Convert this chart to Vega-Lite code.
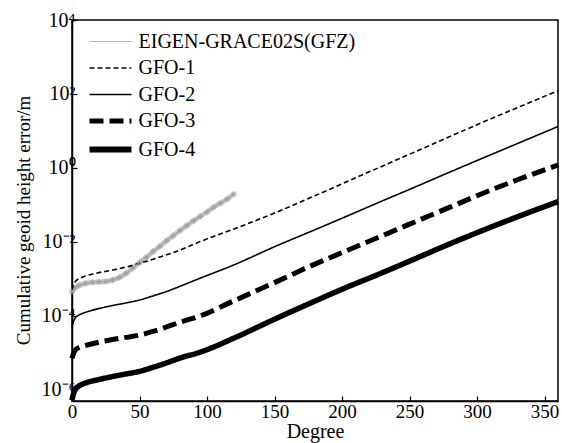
{
  "$schema": "https://vega.github.io/schema/vega-lite/v6.json",
  "width": 486,
  "height": 381,
  "autosize": {"type": "none"},
  "padding": {"left": 72, "top": 20, "right": 4, "bottom": 42},
  "background": "white",
  "config": {
    "font": "Liberation Serif",
    "view": {"stroke": "black", "strokeWidth": 1.5},
    "axis": {"grid": false, "domainColor": "black", "domainWidth": 1.5, "tickColor": "black", "tickWidth": 1.2, "labelColor": "black", "titleColor": "black", "labelFont": "Liberation Serif", "titleFont": "Liberation Serif", "titleFontWeight": "normal"}
  },
  "datasets": {
    "curves": [
      {"series":"GFO-1","degree":0,"error":5.012e-4},{"series":"GFO-1","degree":1,"error":6.607e-4},{"series":"GFO-1","degree":2,"error":7.943e-4},{"series":"GFO-1","degree":3,"error":8.913e-4},{"series":"GFO-1","degree":5,"error":1.0e-3},{"series":"GFO-1","degree":8,"error":1.122e-3},{"series":"GFO-1","degree":12,"error":1.259e-3},{"series":"GFO-1","degree":20,"error":1.479e-3},{"series":"GFO-1","degree":30,"error":1.738e-3},{"series":"GFO-1","degree":40,"error":2.089e-3},{"series":"GFO-1","degree":50,"error":2.630e-3},{"series":"GFO-1","degree":60,"error":3.388e-3},{"series":"GFO-1","degree":70,"error":4.467e-3},{"series":"GFO-1","degree":80,"error":6.026e-3},{"series":"GFO-1","degree":95,"error":1.023e-2},{"series":"GFO-1","degree":120,"error":2.239e-2},{"series":"GFO-1","degree":150,"error":6.026e-2},{"series":"GFO-1","degree":180,"error":1.778e-1},{"series":"GFO-1","degree":200,"error":3.715e-1},{"series":"GFO-1","degree":228,"error":1.047},{"series":"GFO-1","degree":250,"error":2.344},{"series":"GFO-1","degree":280,"error":7.079},{"series":"GFO-1","degree":300,"error":14.79},{"series":"GFO-1","degree":330,"error":42.66},{"series":"GFO-1","degree":360,"error":123.0},
      {"series":"GFO-2","degree":0,"error":5.012e-5},{"series":"GFO-2","degree":1,"error":6.918e-5},{"series":"GFO-2","degree":2,"error":8.318e-5},{"series":"GFO-2","degree":3,"error":9.333e-5},{"series":"GFO-2","degree":5,"error":1.047e-4},{"series":"GFO-2","degree":8,"error":1.175e-4},{"series":"GFO-2","degree":12,"error":1.318e-4},{"series":"GFO-2","degree":20,"error":1.585e-4},{"series":"GFO-2","degree":30,"error":1.905e-4},{"series":"GFO-2","degree":40,"error":2.239e-4},{"series":"GFO-2","degree":50,"error":2.692e-4},{"series":"GFO-2","degree":60,"error":3.467e-4},{"series":"GFO-2","degree":70,"error":4.571e-4},{"series":"GFO-2","degree":80,"error":6.310e-4},{"series":"GFO-2","degree":95,"error":1.047e-3},{"series":"GFO-2","degree":120,"error":2.399e-3},{"series":"GFO-2","degree":150,"error":7.413e-3},{"series":"GFO-2","degree":180,"error":2.138e-2},{"series":"GFO-2","degree":200,"error":4.365e-2},{"series":"GFO-2","degree":228,"error":1.202e-1},{"series":"GFO-2","degree":250,"error":2.630e-1},{"series":"GFO-2","degree":280,"error":7.762e-1},{"series":"GFO-2","degree":300,"error":1.585},{"series":"GFO-2","degree":330,"error":4.571},{"series":"GFO-2","degree":360,"error":13.18},
      {"series":"GFO-3","degree":0,"error":7.079e-6},{"series":"GFO-3","degree":1,"error":9.550e-6},{"series":"GFO-3","degree":2,"error":1.122e-5},{"series":"GFO-3","degree":3,"error":1.259e-5},{"series":"GFO-3","degree":5,"error":1.380e-5},{"series":"GFO-3","degree":8,"error":1.514e-5},{"series":"GFO-3","degree":12,"error":1.660e-5},{"series":"GFO-3","degree":20,"error":1.950e-5},{"series":"GFO-3","degree":30,"error":2.291e-5},{"series":"GFO-3","degree":40,"error":2.630e-5},{"series":"GFO-3","degree":50,"error":3.020e-5},{"series":"GFO-3","degree":60,"error":3.802e-5},{"series":"GFO-3","degree":70,"error":5.012e-5},{"series":"GFO-3","degree":80,"error":6.761e-5},{"series":"GFO-3","degree":95,"error":1.0e-4},{"series":"GFO-3","degree":120,"error":2.570e-4},{"series":"GFO-3","degree":150,"error":7.943e-4},{"series":"GFO-3","degree":180,"error":2.512e-3},{"series":"GFO-3","degree":200,"error":5.129e-3},{"series":"GFO-3","degree":228,"error":1.380e-2},{"series":"GFO-3","degree":250,"error":3.020e-2},{"series":"GFO-3","degree":280,"error":8.710e-2},{"series":"GFO-3","degree":300,"error":1.778e-1},{"series":"GFO-3","degree":330,"error":4.786e-1},{"series":"GFO-3","degree":360,"error":1.202},
      {"series":"GFO-4","degree":0,"error":5.248e-7},{"series":"GFO-4","degree":1,"error":7.586e-7},{"series":"GFO-4","degree":2,"error":9.550e-7},{"series":"GFO-4","degree":3,"error":1.096e-6},{"series":"GFO-4","degree":5,"error":1.259e-6},{"series":"GFO-4","degree":8,"error":1.445e-6},{"series":"GFO-4","degree":12,"error":1.622e-6},{"series":"GFO-4","degree":20,"error":1.905e-6},{"series":"GFO-4","degree":30,"error":2.291e-6},{"series":"GFO-4","degree":40,"error":2.692e-6},{"series":"GFO-4","degree":50,"error":3.162e-6},{"series":"GFO-4","degree":60,"error":4.074e-6},{"series":"GFO-4","degree":70,"error":5.370e-6},{"series":"GFO-4","degree":80,"error":7.244e-6},{"series":"GFO-4","degree":95,"error":1.047e-5},{"series":"GFO-4","degree":120,"error":2.512e-5},{"series":"GFO-4","degree":150,"error":8.128e-5},{"series":"GFO-4","degree":180,"error":2.512e-4},{"series":"GFO-4","degree":200,"error":5.248e-4},{"series":"GFO-4","degree":228,"error":1.380e-3},{"series":"GFO-4","degree":250,"error":3.020e-3},{"series":"GFO-4","degree":280,"error":8.913e-3},{"series":"GFO-4","degree":300,"error":1.778e-2},{"series":"GFO-4","degree":330,"error":4.786e-2},{"series":"GFO-4","degree":360,"error":1.230e-1},
      {"series":"EIGEN-GRACE02S(GFZ)","degree":0,"error":4.467e-4},{"series":"EIGEN-GRACE02S(GFZ)","degree":2,"error":5.623e-4},{"series":"EIGEN-GRACE02S(GFZ)","degree":5,"error":6.607e-4},{"series":"EIGEN-GRACE02S(GFZ)","degree":10,"error":7.586e-4},{"series":"EIGEN-GRACE02S(GFZ)","degree":15,"error":8.128e-4},{"series":"EIGEN-GRACE02S(GFZ)","degree":20,"error":8.318e-4},{"series":"EIGEN-GRACE02S(GFZ)","degree":25,"error":8.511e-4},{"series":"EIGEN-GRACE02S(GFZ)","degree":30,"error":9.333e-4},{"series":"EIGEN-GRACE02S(GFZ)","degree":35,"error":1.096e-3},{"series":"EIGEN-GRACE02S(GFZ)","degree":40,"error":1.413e-3},{"series":"EIGEN-GRACE02S(GFZ)","degree":45,"error":1.950e-3},{"series":"EIGEN-GRACE02S(GFZ)","degree":50,"error":2.754e-3},{"series":"EIGEN-GRACE02S(GFZ)","degree":55,"error":3.802e-3},{"series":"EIGEN-GRACE02S(GFZ)","degree":60,"error":5.495e-3},{"series":"EIGEN-GRACE02S(GFZ)","degree":65,"error":7.586e-3},{"series":"EIGEN-GRACE02S(GFZ)","degree":70,"error":1.072e-2},{"series":"EIGEN-GRACE02S(GFZ)","degree":75,"error":1.479e-2},{"series":"EIGEN-GRACE02S(GFZ)","degree":80,"error":2.042e-2},{"series":"EIGEN-GRACE02S(GFZ)","degree":85,"error":2.754e-2},{"series":"EIGEN-GRACE02S(GFZ)","degree":90,"error":3.715e-2},{"series":"EIGEN-GRACE02S(GFZ)","degree":95,"error":4.898e-2},{"series":"EIGEN-GRACE02S(GFZ)","degree":100,"error":6.457e-2},{"series":"EIGEN-GRACE02S(GFZ)","degree":105,"error":8.710e-2},{"series":"EIGEN-GRACE02S(GFZ)","degree":110,"error":1.122e-1},{"series":"EIGEN-GRACE02S(GFZ)","degree":115,"error":1.445e-1},{"series":"EIGEN-GRACE02S(GFZ)","degree":120,"error":1.995e-1}
    ]
  },
  "data": {"name": "curves"},
  "encoding": {
    "x": {
      "field": "degree", "type": "quantitative",
      "scale": {"domain": [0, 360], "nice": false, "zero": false},
      "axis": {"title": "Degree", "values": [0,50,100,150,200,250,300,350], "tickSize": -5, "labelFontSize": 19, "labelPadding": 6, "titleFontSize": 20, "titlePadding": 0, "labelFlush": false}
    },
    "y": {
      "field": "error", "type": "quantitative",
      "scale": {"type": "log", "domain": [5.0e-7, 10000], "nice": false},
      "axis": {
        "title": "Cumulative geoid height error/m",
        "values": [1e-6, 1e-4, 1e-2, 1, 100, 10000],
        "labelExpr": "datum.value >= 1000 ? '10⁴' : datum.value >= 10 ? '10²' : datum.value >= 0.1 ? '10⁰' : datum.value >= 0.001 ? '10⁻²' : datum.value >= 0.00001 ? '10⁻⁴' : '10⁻⁶'",
        "tickSize": -5, "labelFontSize": 20, "labelPadding": 2,
        "titleFontSize": 19, "titleX": -43, "titleY": 200, "titleBaseline": "alphabetic"
      }
    }
  },
  "layer": [
    {
      "transform": [{"filter": "datum.series == 'EIGEN-GRACE02S(GFZ)'"}],
      "mark": {"type": "line", "color": "#c2c2c2", "strokeWidth": 5, "opacity": 0.9, "interpolate": "monotone"}
    },
    {
      "transform": [{"filter": "datum.series == 'EIGEN-GRACE02S(GFZ)'"}],
      "mark": {"type": "point", "shape": "M-1,0H1M0,-1V1M-0.7,-0.7L0.7,0.7M-0.7,0.7L0.7,-0.7", "filled": false, "stroke": "#999999", "strokeWidth": 0.8, "size": 40, "opacity": 1}
    },
    {
      "mark": {"type": "line", "strokeCap": "butt", "interpolate": "monotone"},
      "encoding": {
        "color": {
          "field": "series", "type": "nominal",
          "scale": {"domain": ["EIGEN-GRACE02S(GFZ)","GFO-1","GFO-2","GFO-3","GFO-4"], "range": ["#a0a0a0","black","black","black","black"]},
          "legend": {
            "title": null, "orient": "none", "legendX": 28.5, "legendY": 11.5, "padding": 0,
            "labelFontSize": 20, "labelFont": "Liberation Serif", "labelColor": "black", "labelLimit": 400,
            "symbolType": "M-2,0H2", "symbolSize": 441, "rowPadding": 6.5, "labelOffset": 18,
            "encode": {"symbols": {"update": {"strokeWidth": {"signal": "datum.value == 'GFO-4' ? 6 : datum.value == 'GFO-3' ? 5 : datum.value == 'GFO-1' || datum.value == 'GFO-2' ? 1.6 : 1"}}}}
          }
        },
        "strokeDash": {
          "field": "series", "type": "nominal",
          "scale": {"domain": ["EIGEN-GRACE02S(GFZ)","GFO-1","GFO-2","GFO-3","GFO-4"], "range": [[1,0],[5,3],[1,0],[14,6],[1,0]]}
        },
        "strokeWidth": {
          "condition": [
            {"test": "datum.series == 'GFO-4'", "value": 5.5},
            {"test": "datum.series == 'GFO-3'", "value": 5},
            {"test": "datum.series == 'EIGEN-GRACE02S(GFZ)'", "value": 1.2}
          ],
          "value": 1.6
        }
      }
    }
  ]
}
